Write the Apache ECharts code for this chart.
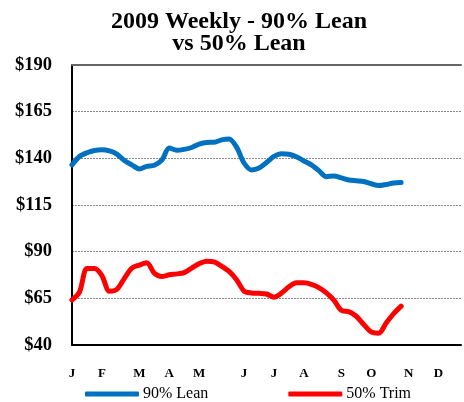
<!DOCTYPE html>
<html>
<head>
<meta charset="utf-8">
<script src="https://cdn.jsdelivr.net/npm/echarts@6/dist/echarts.min.js"></script>
<style>
  html, body { margin: 0; padding: 0; background: #fff; }
  #chart { width: 464px; height: 402px; }
</style>
</head>
<body>
<div id="chart"></div>
<script>
// weeks of the year on the category axis
const weeks = Array.from({ length: 53 }, (_, i) => 'W' + (i + 1));
// month letters and the week index they sit on
const monthLabels = ['J', 'F', 'M', 'A', 'M', 'J', 'J', 'A', 'S', 'O', 'N', 'D'];
const monthWeekIdx = [0, 4, 9, 13, 17, 23, 27, 31, 36, 40, 45, 49];
const yTicks = [40, 65, 90, 115, 140, 165, 190];

const lean90 = [136.5, 141, 143, 144.2, 144.6, 144, 142.3, 138.8, 136.5, 134.3, 135.7, 136.3, 139,
  145.5, 144.3, 144.8, 145.8, 147.6, 148.5, 148.6, 149.9, 150.4, 146, 137.5, 133.8, 134.8, 137.8,
  141, 142.5, 142.2, 140.8, 138.6, 136.5, 133.4, 130.2, 130.6, 129.5, 128.4, 128, 127.6, 126.4,
  125.4, 126, 126.8, 127];
const trim50 = [64.1, 68.3, 81, 81, 77.2, 68.8, 69.8, 75.7, 81.2, 82.8, 84, 78.5, 76.7,
  77.6, 78.1, 78.8, 81.2, 83.6, 84.9, 84.5, 82.2, 79.4, 75, 68.9, 67.9, 67.7, 67.3,
  65.6, 67.8, 71.2, 73.3, 73.3, 72.5, 70.7, 67.9, 64.1, 58.6, 57.9, 55.4, 51, 47,
  46.3, 51.8, 56.8, 60.8];

const serif = '"Liberation Serif", "Times New Roman", serif';

const option = {
  animation: false,
  title: {
    text: '2009 Weekly - 90% Lean\nvs 50% Lean',
    left: 234,
    textAlign: 'center',
    top: 6,
    textStyle: { fontFamily: serif, fontSize: 24, fontWeight: 'bold', color: '#000', lineHeight: 22 }
  },
  legend: {
    left: 80,
    top: 381,
    itemGap: 80,
    itemWidth: 54,
    itemHeight: 5,
    icon: 'roundRect',
    textStyle: { fontFamily: serif, fontSize: 16, color: '#000', padding: [0, 0, 0, -1] },
    data: ['90% Lean', '50% Trim']
  },
  grid: { left: 72, right: 1, top: 65, bottom: 57 },
  xAxis: [
    {
      type: 'category',
      data: weeks,
      boundaryGap: false,
      axisLine: { lineStyle: { color: '#000', width: 2 } },
      axisTick: { show: false },
      axisLabel: {
        interval: 0,
        margin: 22,
        fontFamily: serif,
        fontSize: 13,
        fontWeight: 'bold',
        color: '#000',
        formatter: (v, i) => {
          const k = monthWeekIdx.indexOf(i);
          return k >= 0 ? monthLabels[k] : '';
        }
      },
      splitLine: { show: false }
    },
    {
      type: 'category',
      data: weeks,
      position: 'top',
      boundaryGap: false,
      axisLine: { lineStyle: { color: '#666', width: 2 } },
      axisTick: { show: false },
      axisLabel: { show: false }
    }
  ],
  yAxis: {
    type: 'value',
    min: yTicks[0],
    max: yTicks[yTicks.length - 1],
    interval: 25,
    axisLine: { show: true, lineStyle: { color: '#000', width: 2 } },
    axisTick: { show: false },
    axisLabel: {
      margin: 20,
      fontFamily: serif,
      fontSize: 18.5,
      fontWeight: 'bold',
      color: '#000',
      formatter: v => '$' + v
    },
    splitLine: { lineStyle: { color: '#888', type: [2, 1], width: 1 } }
  },
  series: [
    {
      name: '90% Lean',
      type: 'line',
      data: lean90,
      smooth: 0.3,
      showSymbol: false,
      color: '#0070C0',
      lineStyle: { width: 5, cap: 'round', join: 'round' }
    },
    {
      name: '50% Trim',
      type: 'line',
      data: trim50,
      smooth: 0.3,
      showSymbol: false,
      color: '#FF0000',
      lineStyle: { width: 5, cap: 'round', join: 'round' }
    }
  ]
};

const chart = echarts.init(document.getElementById('chart'));
chart.setOption(option);
</script>
</body>
</html>
